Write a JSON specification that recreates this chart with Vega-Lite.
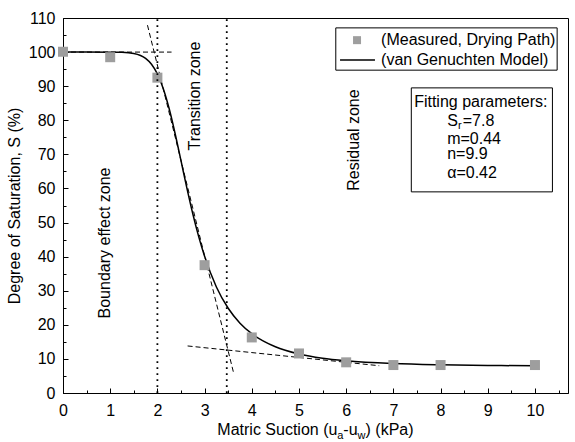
{
  "$schema": "https://vega.github.io/schema/vega-lite/v6.json",
  "width": 505,
  "height": 375,
  "autosize": "none",
  "padding": {"left": 63, "top": 18, "right": 7, "bottom": 49},
  "background": "white",
  "data": {"values": [{}]},
  "config": {
    "view": {"stroke": "black", "strokeWidth": 1},
    "font": "Liberation Sans",
    "text": {"font": "Liberation Sans", "fontSize": 16, "color": "black"},
    "axis": {
      "grid": false,
      "domainColor": "black",
      "tickColor": "black",
      "labelFont": "Liberation Sans",
      "labelFontSize": 16,
      "labelColor": "black",
      "labelFlush": false,
      "labelOverlap": false
    }
  },
  "resolve": {"axis": {"x": "independent", "y": "independent"}},
  "datasets": {
    "curve": [
      {"x": 0, "y": 100}, {"x": 0.5, "y": 100}, {"x": 1, "y": 99.99}, {"x": 1.25, "y": 99.93},
      {"x": 1.5, "y": 99.58}, {"x": 1.75, "y": 98.14}, {"x": 1.875, "y": 96.43}, {"x": 2, "y": 93.59},
      {"x": 2.125, "y": 89.28}, {"x": 2.25, "y": 83.38}, {"x": 2.375, "y": 76.13}, {"x": 2.5, "y": 68.14},
      {"x": 2.625, "y": 60.1}, {"x": 2.75, "y": 52.57}, {"x": 2.875, "y": 45.86}, {"x": 3, "y": 40.09},
      {"x": 3.25, "y": 31.11}, {"x": 3.5, "y": 24.85}, {"x": 3.75, "y": 20.48}, {"x": 4, "y": 17.4},
      {"x": 4.5, "y": 13.56}, {"x": 5, "y": 11.44}, {"x": 5.5, "y": 10.2}, {"x": 6, "y": 9.45},
      {"x": 7, "y": 8.64}, {"x": 8, "y": 8.27}, {"x": 9, "y": 8.08}, {"x": 10, "y": 7.98}
    ],
    "measured": [
      {"x": 0, "y": 100.1}, {"x": 1, "y": 98.5}, {"x": 2, "y": 92.5}, {"x": 3, "y": 37.5},
      {"x": 4, "y": 16.3}, {"x": 5, "y": 11.6}, {"x": 6, "y": 9.0}, {"x": 7, "y": 8.2},
      {"x": 8, "y": 8.2}, {"x": 10, "y": 8.2}
    ],
    "tangents": [
      {"seg": "a", "x": 0, "y": 100}, {"seg": "a", "x": 2.3, "y": 100},
      {"seg": "b", "x": 1.79, "y": 107.9}, {"seg": "b", "x": 3.62, "y": 5.6},
      {"seg": "c", "x": 2.64, "y": 13.8}, {"seg": "c", "x": 6.7, "y": 8.0}
    ],
    "zones": [
      {"x": 2}, {"x": 3.47}
    ]
  },
  "layer": [
    {
      "data": {"name": "curve"},
      "mark": {"type": "line", "color": "black", "strokeWidth": 1.5, "interpolate": "monotone"},
      "encoding": {
        "x": {
          "field": "x", "type": "quantitative",
          "scale": {"domain": [0, 10.7], "nice": false, "zero": false},
          "axis": {
            "title": null,
            "orient": "bottom",
            "values": [0, 1, 2, 3, 4, 5, 6, 7, 8, 9, 10],
            "format": "d",
            "ticks": false,
            "labelPadding": 9
          }
        },
        "y": {
          "field": "y", "type": "quantitative",
          "scale": {"domain": [0, 110], "nice": false, "zero": false},
          "axis": {
            "title": "Degree of Saturation, S (%)",
            "orient": "left",
            "titleFont": "Liberation Sans",
            "titleFontSize": 16,
            "titleFontWeight": "normal",
            "titleColor": "black",
            "titlePadding": 6,
            "values": [0, 10, 20, 30, 40, 50, 60, 70, 80, 90, 100, 110],
            "format": "d",
            "ticks": false,
            "labelPadding": 8
          }
        }
      }
    },
    {
      "data": {"name": "tangents"},
      "mark": {"type": "line", "color": "black", "strokeWidth": 1, "strokeDash": [5, 3]},
      "encoding": {
        "x": {
          "field": "x", "type": "quantitative",
          "axis": {"title": null, "orient": "bottom", "offset": -3, "values": [0.5, 1.5, 2.5, 3.5, 4.5, 5.5, 6.5, 7.5, 8.5, 9.5, 10.5], "labels": false, "domain": false, "ticks": true, "tickSize": 3, "tickWidth": 1}
        },
        "y": {
          "field": "y", "type": "quantitative",
          "axis": {"title": null, "orient": "left", "offset": -3, "values": [5, 15, 25, 35, 45, 55, 65, 75, 85, 95, 105], "labels": false, "domain": false, "ticks": true, "tickSize": 3, "tickWidth": 1}
        },
        "detail": {"field": "seg"}
      }
    },
    {
      "data": {"name": "measured"},
      "mark": {"type": "point", "shape": "square", "filled": true, "color": "#9e9e9e", "opacity": 1, "size": 100},
      "encoding": {
        "x": {
          "field": "x", "type": "quantitative",
          "axis": {"title": null, "orient": "bottom", "offset": -5, "values": [0, 1, 2, 3, 4, 5, 6, 7, 8, 9, 10], "labels": false, "domain": false, "ticks": true, "tickSize": 5, "tickWidth": 1}
        },
        "y": {
          "field": "y", "type": "quantitative",
          "axis": {"title": null, "orient": "left", "offset": -5, "values": [0, 10, 20, 30, 40, 50, 60, 70, 80, 90, 100, 110], "labels": false, "domain": false, "ticks": true, "tickSize": 5, "tickWidth": 1}
        }
      }
    },
    {
      "data": {"name": "zones"},
      "mark": {"type": "rule", "color": "black", "strokeWidth": 1.8, "strokeDash": [1.8, 4.2]},
      "encoding": {
        "x": {"field": "x", "type": "quantitative", "axis": null},
        "y": {"datum": 0, "type": "quantitative", "axis": null},
        "y2": {"datum": 110}
      }
    },
    {
      "mark": {"type": "rect", "fill": "white", "stroke": "black", "strokeWidth": 1},
      "encoding": {
        "x": {"datum": 5.78, "type": "quantitative", "axis": null},
        "x2": {"datum": 10.47},
        "y": {"datum": 107.1, "type": "quantitative", "axis": null},
        "y2": {"datum": 94.7}
      }
    },
    {
      "mark": {"type": "rect", "fill": "white", "stroke": "black", "strokeWidth": 1},
      "encoding": {
        "x": {"datum": 7.38, "type": "quantitative", "axis": null},
        "x2": {"datum": 10.37},
        "y": {"datum": 89.5, "type": "quantitative", "axis": null},
        "y2": {"datum": 59.0}
      }
    },
    {
      "mark": {"type": "point", "shape": "square", "filled": true, "color": "#9e9e9e", "opacity": 1, "size": 64},
      "encoding": {
        "x": {"datum": 6.23, "type": "quantitative", "axis": null},
        "y": {"datum": 103.5, "type": "quantitative", "axis": null}
      }
    },
    {
      "mark": {"type": "rule", "color": "black", "strokeWidth": 1.5},
      "encoding": {
        "x": {"datum": 5.87, "type": "quantitative", "axis": null},
        "x2": {"datum": 6.61},
        "y": {"datum": 97.7, "type": "quantitative", "axis": null}
      }
    },
    {
      "mark": {"type": "text", "align": "left", "baseline": "middle"},
      "encoding": {
        "x": {"datum": 6.74, "type": "quantitative", "axis": null},
        "y": {"datum": 103.5, "type": "quantitative", "axis": null},
        "text": {"value": "(Measured, Drying Path)"}
      }
    },
    {
      "mark": {"type": "text", "align": "left", "baseline": "middle"},
      "encoding": {
        "x": {"datum": 6.74, "type": "quantitative", "axis": null},
        "y": {"datum": 97.7, "type": "quantitative", "axis": null},
        "text": {"value": "(van Genuchten Model)"}
      }
    },
    {
      "mark": {"type": "text", "align": "left", "baseline": "alphabetic"},
      "encoding": {
        "x": {"datum": 7.44, "type": "quantitative", "axis": null},
        "y": {"datum": 83.9, "type": "quantitative", "axis": null},
        "text": {"value": "Fitting parameters:"}
      }
    },
    {
      "mark": {"type": "text", "align": "left", "baseline": "alphabetic"},
      "encoding": {
        "x": {"datum": 8.14, "type": "quantitative", "axis": null},
        "y": {"datum": 78.2, "type": "quantitative", "axis": null},
        "text": {"value": "S"}
      }
    },
    {
      "mark": {"type": "text", "align": "left", "baseline": "alphabetic", "fontSize": 11},
      "encoding": {
        "x": {"datum": 8.37, "type": "quantitative", "axis": null},
        "y": {"datum": 77.3, "type": "quantitative", "axis": null},
        "text": {"value": "r"}
      }
    },
    {
      "mark": {"type": "text", "align": "left", "baseline": "alphabetic"},
      "encoding": {
        "x": {"datum": 8.47, "type": "quantitative", "axis": null},
        "y": {"datum": 78.2, "type": "quantitative", "axis": null},
        "text": {"value": "=7.8"}
      }
    },
    {
      "mark": {"type": "text", "align": "left", "baseline": "alphabetic"},
      "encoding": {
        "x": {"datum": 8.14, "type": "quantitative", "axis": null},
        "y": {"datum": 73.0, "type": "quantitative", "axis": null},
        "text": {"value": "m=0.44"}
      }
    },
    {
      "mark": {"type": "text", "align": "left", "baseline": "alphabetic"},
      "encoding": {
        "x": {"datum": 8.14, "type": "quantitative", "axis": null},
        "y": {"datum": 68.5, "type": "quantitative", "axis": null},
        "text": {"value": "n=9.9"}
      }
    },
    {
      "mark": {"type": "text", "align": "left", "baseline": "alphabetic"},
      "encoding": {
        "x": {"datum": 8.14, "type": "quantitative", "axis": null},
        "y": {"datum": 63.0, "type": "quantitative", "axis": null},
        "text": {"value": "α=0.42"}
      }
    },
    {
      "mark": {"type": "text", "align": "center", "baseline": "middle", "angle": 270},
      "encoding": {
        "x": {"datum": 0.89, "type": "quantitative", "axis": null},
        "y": {"datum": 44, "type": "quantitative", "axis": null},
        "text": {"value": "Boundary effect zone"}
      }
    },
    {
      "mark": {"type": "text", "align": "center", "baseline": "middle", "angle": 270},
      "encoding": {
        "x": {"datum": 2.79, "type": "quantitative", "axis": null},
        "y": {"datum": 87.1, "type": "quantitative", "axis": null},
        "text": {"value": "Transition zone"}
      }
    },
    {
      "mark": {"type": "text", "align": "center", "baseline": "middle", "angle": 270},
      "encoding": {
        "x": {"datum": 6.17, "type": "quantitative", "axis": null},
        "y": {"datum": 74.2, "type": "quantitative", "axis": null},
        "text": {"value": "Residual zone"}
      }
    },
    {
      "mark": {"type": "text", "align": "left", "baseline": "alphabetic"},
      "encoding": {
        "x": {"datum": 3.27, "type": "quantitative", "axis": null},
        "y": {"datum": -12.3, "type": "quantitative", "axis": null},
        "text": {"value": "Matric Suction (u"}
      }
    },
    {
      "mark": {"type": "text", "align": "left", "baseline": "alphabetic", "fontSize": 11},
      "encoding": {
        "x": {"datum": 5.81, "type": "quantitative", "axis": null},
        "y": {"datum": -13.5, "type": "quantitative", "axis": null},
        "text": {"value": "a"}
      }
    },
    {
      "mark": {"type": "text", "align": "left", "baseline": "alphabetic"},
      "encoding": {
        "x": {"datum": 5.94, "type": "quantitative", "axis": null},
        "y": {"datum": -12.3, "type": "quantitative", "axis": null},
        "text": {"value": "-u"}
      }
    },
    {
      "mark": {"type": "text", "align": "left", "baseline": "alphabetic", "fontSize": 11},
      "encoding": {
        "x": {"datum": 6.24, "type": "quantitative", "axis": null},
        "y": {"datum": -13.5, "type": "quantitative", "axis": null},
        "text": {"value": "w"}
      }
    },
    {
      "mark": {"type": "text", "align": "left", "baseline": "alphabetic"},
      "encoding": {
        "x": {"datum": 6.41, "type": "quantitative", "axis": null},
        "y": {"datum": -12.3, "type": "quantitative", "axis": null},
        "text": {"value": ") (kPa)"}
      }
    }
  ]
}
